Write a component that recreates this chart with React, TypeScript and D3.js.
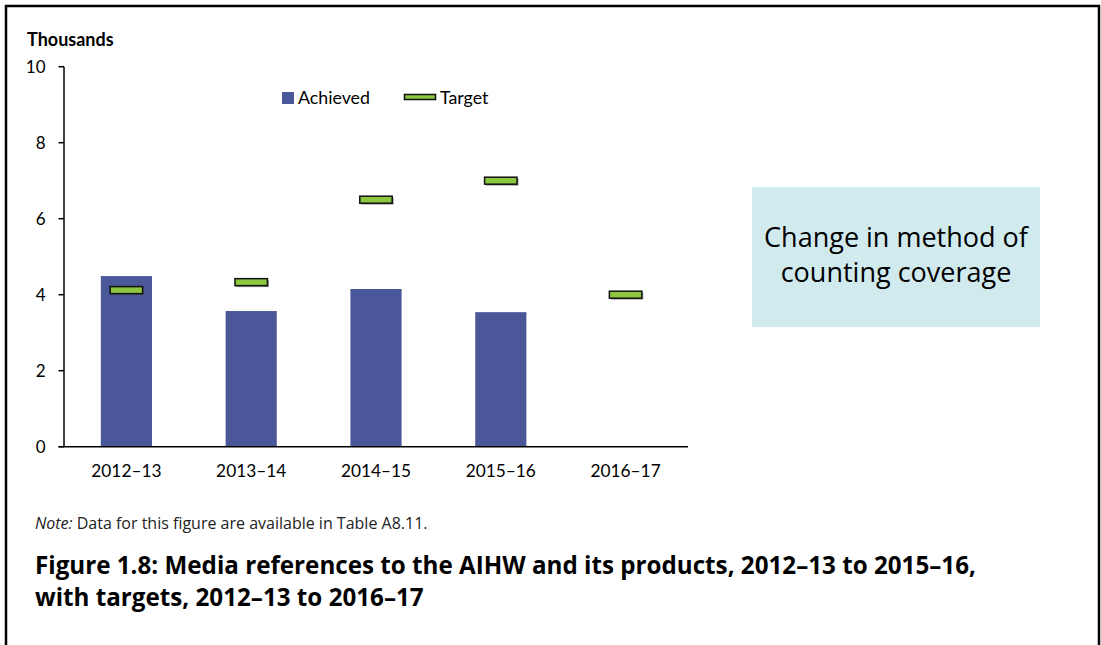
import React from "react";
import * as d3 from "d3";

const categories = ["2012–13", "2013–14", "2014–15", "2015–16", "2016–17"];
const achieved: (number | null)[] = [4.49, 3.57, 4.15, 3.54, null];
const target = [4.12, 4.33, 6.5, 7.0, 4.0];
const yTicks = [0, 2, 4, 6, 8, 10];
const legendLabels = ["Achieved", "Target"];
const boxLines = ["Change in method of", "counting coverage"];
const noteText = "Data for this figure are available in Table A8.11.";
const captionLines = [
  "Figure 1.8: Media references to the AIHW and its products, 2012–13 to 2015–16,",
  "with targets, 2012–13 to 2016–17",
];

const W = 1101;
const H = 645;
const BAR = "#4A5799";
const GREEN = "#8DC63F";
const FONT = "Lato, 'Open Sans', sans-serif";
const FONT2 = "'Open Sans', 'Noto Sans', sans-serif";

export default function App() {
  const x = d3.scaleBand<string>().domain(categories).range([64, 688]).padding(0);
  const y = d3.scaleLinear().domain([0, 10]).range([446.7, 66.7]);
  const step = x.step();
  const barW = step * 0.41;
  const tgtW = step * 0.26;
  const tgtH = 7;

  return (
    <svg
      width={W}
      height={H}
      style={{ position: "absolute", left: 0, top: 0, background: "#fff" }}
    >
      <rect x={6} y={6} width={1093} height={700} fill="#fff" stroke="#000" strokeWidth={2.5} />

      <text x={27} y={46} fontFamily={FONT} fontWeight="bold" fontSize={18} fill="#000">
        Thousands
      </text>

      {/* bars */}
      {categories.map((c, i) =>
        achieved[i] == null ? null : (
          <rect
            key={"b" + c}
            x={(x(c) as number) + step / 2 - barW / 2}
            y={y(achieved[i] as number)}
            width={barW}
            height={y(0) - y(achieved[i] as number)}
            fill={BAR}
          />
        )
      )}

      {/* targets */}
      {categories.map((c, i) => {
        const cx = (x(c) as number) + step / 2;
        const cy = y(target[i]);
        return (
          <g key={"t" + c}>
            <rect x={cx - tgtW / 2 + 1.5} y={cy - tgtH / 2 + 1.5} width={tgtW} height={tgtH} fill="#555" opacity={0.55} />
            <rect x={cx - tgtW / 2} y={cy - tgtH / 2} width={tgtW} height={tgtH} fill={GREEN} stroke="#111" strokeWidth={1.5} />
          </g>
        );
      })}

      {/* y axis */}
      <line x1={64} x2={64} y1={y(10)} y2={y(0)} stroke="#000" strokeWidth={1.5} />
      {yTicks.map((t) => (
        <g key={"y" + t}>
          <line x1={58.5} x2={64} y1={y(t)} y2={y(t)} stroke="#000" strokeWidth={1.5} />
          <text x={45.5} y={y(t) + 6} textAnchor="end" fontFamily={FONT} fontSize={17} fill="#000">
            {t}
          </text>
        </g>
      ))}

      {/* x axis */}
      <line x1={58.5} x2={688} y1={y(0)} y2={y(0)} stroke="#000" strokeWidth={1.5} />
      {categories.map((c) => (
        <text
          key={"x" + c}
          x={(x(c) as number) + step / 2}
          y={477}
          textAnchor="middle"
          fontFamily={FONT}
          fontSize={17.3}
          fill="#000"
        >
          {c}
        </text>
      ))}

      {/* legend */}
      <rect x={282} y={92} width={12} height={12} fill={BAR} />
      <text x={298} y={103.5} fontFamily={FONT} fontSize={17.8} fill="#000">
        {legendLabels[0]}
      </text>
      <rect x={404.5} y={94.5} width={31} height={5} fill={GREEN} stroke="#111" strokeWidth={1.5} />
      <text x={440} y={103.5} fontFamily={FONT} fontSize={17.8} fill="#000">
        {legendLabels[1]}
      </text>

      {/* annotation box */}
      <rect x={752} y={187} width={288} height={140} fill="#D0EAEE" />
      {boxLines.map((l, i) => (
        <text
          key={"bl" + i}
          x={896}
          y={247 + i * 35}
          textAnchor="middle"
          fontFamily={FONT2}
          fontSize={27}
          fill="#000"
        >
          {l}
        </text>
      ))}

      {/* note */}
      <text x={35} y={529} fontFamily={FONT2} fontSize={16} fill="#222">
        <tspan fontStyle="italic">Note:</tspan> {noteText}
      </text>

      {/* caption */}
      {captionLines.map((l, i) => (
        <text
          key={"c" + i}
          x={35}
          y={574 + i * 32}
          fontFamily={FONT2}
          fontWeight="bold"
          fontSize={24.2}
          fill="#000"
        >
          {l}
        </text>
      ))}
    </svg>
  );
}
